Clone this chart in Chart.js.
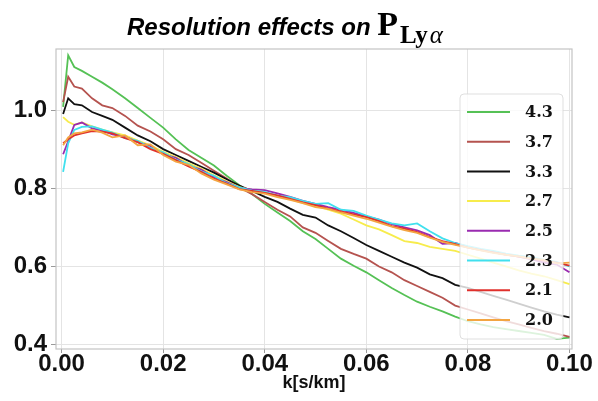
<!DOCTYPE html>
<html>
<head>
<meta charset="utf-8">
<script src="https://cdn.jsdelivr.net/npm/chart.js@4.4.1/dist/chart.umd.min.js"></script>
<style>
  html, body { margin: 0; padding: 0; background: #fff; }
  canvas { display: block; }
</style>
</head>
<body>
<canvas id="myChart" width="598" height="401"></canvas>
<script>
var kValues = [0.0003,0.0013,0.0025,0.004,0.006,0.008,0.010,0.0125,0.015,0.0175,0.02,0.0225,0.025,0.0275,0.03,0.0325,0.035,0.0375,0.04,0.0425,0.045,0.0475,0.05,0.0525,0.055,0.0575,0.06,0.0625,0.065,0.0675,0.07,0.0725,0.075,0.0775,0.08,0.0825,0.085,0.0875,0.09,0.0925,0.095,0.0975,0.1];

var labels = ["4.3","3.7","3.3","2.7","2.5","2.3","2.1","2.0"];
var colors = ["#55c155","#b5534f","#111111","#f7ec4c","#9a2bb0","#40e0ee","#e0302c","#f3a542"];

var z43 = [1.008,1.14,1.11,1.10,1.085,1.07,1.053,1.03,1.005,0.98,0.955,0.925,0.898,0.878,0.858,0.832,0.808,0.785,0.76,0.738,0.716,0.69,0.67,0.645,0.62,0.602,0.585,0.565,0.545,0.527,0.51,0.497,0.485,0.472,0.46,0.452,0.445,0.44,0.435,0.43,0.425,0.415,0.418];
var z37 = [1.02,1.085,1.06,1.055,1.03,1.012,1.005,0.985,0.96,0.945,0.925,0.90,0.885,0.865,0.845,0.825,0.802,0.785,0.765,0.745,0.728,0.70,0.686,0.665,0.645,0.632,0.62,0.60,0.585,0.565,0.55,0.535,0.52,0.50,0.49,0.48,0.47,0.46,0.452,0.443,0.435,0.428,0.42];
var z33 = [0.99,1.03,1.015,1.012,0.995,0.985,0.975,0.955,0.935,0.92,0.90,0.885,0.87,0.855,0.84,0.823,0.807,0.793,0.778,0.765,0.748,0.732,0.725,0.705,0.69,0.673,0.655,0.64,0.625,0.61,0.597,0.58,0.57,0.553,0.545,0.535,0.525,0.515,0.505,0.495,0.485,0.477,0.47];
var z27 = [0.982,0.97,0.962,0.968,0.958,0.95,0.943,0.935,0.922,0.91,0.893,0.88,0.864,0.85,0.833,0.818,0.803,0.795,0.788,0.78,0.772,0.762,0.755,0.745,0.735,0.72,0.705,0.695,0.68,0.665,0.66,0.65,0.645,0.64,0.63,0.62,0.61,0.60,0.59,0.582,0.575,0.565,0.555];
var z25 = [0.887,0.92,0.962,0.968,0.953,0.948,0.938,0.932,0.918,0.908,0.887,0.878,0.858,0.848,0.828,0.816,0.801,0.797,0.795,0.787,0.778,0.768,0.76,0.752,0.745,0.737,0.728,0.72,0.708,0.70,0.692,0.68,0.658,0.66,0.65,0.643,0.636,0.63,0.625,0.618,0.61,0.605,0.585];
var z23 = [0.842,0.915,0.949,0.957,0.958,0.95,0.942,0.928,0.921,0.903,0.892,0.873,0.862,0.843,0.832,0.813,0.802,0.794,0.791,0.781,0.777,0.768,0.76,0.762,0.745,0.742,0.73,0.72,0.71,0.705,0.71,0.69,0.672,0.66,0.652,0.645,0.64,0.633,0.628,0.624,0.617,0.612,0.60];
var z21 = [0.915,0.925,0.935,0.94,0.946,0.945,0.94,0.928,0.918,0.9,0.888,0.872,0.856,0.842,0.825,0.812,0.798,0.793,0.788,0.782,0.773,0.764,0.757,0.748,0.741,0.733,0.726,0.716,0.703,0.697,0.688,0.675,0.665,0.657,0.648,0.642,0.636,0.63,0.625,0.62,0.615,0.61,0.602];
var z20 = [0.91,0.93,0.94,0.943,0.95,0.942,0.93,0.935,0.91,0.912,0.885,0.868,0.86,0.838,0.822,0.81,0.797,0.79,0.786,0.777,0.77,0.762,0.752,0.747,0.738,0.73,0.722,0.712,0.702,0.693,0.686,0.674,0.663,0.655,0.648,0.641,0.635,0.63,0.626,0.62,0.617,0.608,0.61];

var xTicks = [0, 0.02, 0.04, 0.06, 0.08, 0.10];
var yTicks = [0.4, 0.6, 0.8, 1.0];

var series = [z43, z37, z33, z27, z25, z23, z21, z20];

var datasets = series.map(function(vals, i){
  return {
    label: labels[i],
    data: vals.map(function(v, j){ return {x: kValues[j], y: v}; }),
    borderColor: colors[i],
    backgroundColor: colors[i],
    borderWidth: 1.8,
    pointRadius: 0,
    tension: 0,
    fill: false,
    order: series.length - i   // later series sit on top, like matplotlib
  };
});

// frame round the plot
var frame = {
  id: 'frame',
  beforeDatasetsDraw: function(chart){
    var a = chart.chartArea, ctx = chart.ctx;
    ctx.save();
    ctx.strokeStyle = '#c4c4c4';
    ctx.lineWidth = 1.2;
    ctx.strokeRect(a.left, a.top, a.right - a.left, a.bottom - a.top);
    ctx.restore();
  }
};

// legend inside the axes, on top of the lines (semi transparent box)
var boxLegend = {
  id: 'boxLegend',
  afterDatasetsDraw: function(chart){
    var ctx = chart.ctx, a = chart.chartArea;
    var bx = a.right - 112, by = a.top + 45, bw = 103, bh = 245;
    ctx.save();
    ctx.beginPath();
    ctx.roundRect(bx, by, bw, bh, 4);
    ctx.fillStyle = 'rgba(255,255,255,0.8)';
    ctx.fill();
    ctx.strokeStyle = 'rgba(215,215,215,0.8)';
    ctx.lineWidth = 1;
    ctx.stroke();
    ctx.font = 'bold 16px "DejaVu Serif"';
    ctx.textBaseline = 'middle';
    ctx.textAlign = 'left';
    chart.data.datasets.forEach(function(ds, i){
      var y = by + 18 + i * 29.7;
      ctx.strokeStyle = ds.borderColor;
      ctx.lineWidth = 2;
      ctx.beginPath();
      ctx.moveTo(bx + 7, y);
      ctx.lineTo(bx + 50, y);
      ctx.stroke();
      ctx.fillStyle = '#111';
      ctx.fillText(ds.label, bx + 65, y + 1);
    });
    ctx.restore();
  }
};

// title: mixed fonts, so drawn by hand
var mixedTitle = {
  id: 'mixedTitle',
  afterDraw: function(chart){
    var ctx = chart.ctx;
    var parts = [
      {t: 'Resolution effects on ', f: 'italic bold 24px "Liberation Sans"', dy: 0, gap: 0},
      {t: 'P', f: 'bold 34px "Liberation Serif"', dy: 0, gap: 2},
      {t: 'Ly', f: 'bold 25px "Liberation Serif"', dy: 8, gap: 2},
      {t: '\u03b1', f: 'italic 25px "Liberation Serif"', dy: 8, gap: 0}
    ];
    ctx.save();
    var x = 127, base = 35;
    ctx.fillStyle = '#000';
    ctx.textBaseline = 'alphabetic';
    ctx.textAlign = 'left';
    parts.forEach(function(p){
      ctx.font = p.f;
      ctx.fillText(p.t, x, base + p.dy);
      x += ctx.measureText(p.t).width + p.gap;
    });
    ctx.restore();
  }
};

var ctx = document.getElementById('myChart').getContext('2d');
var chart = new Chart(ctx, {
  type: 'line',
  data: { datasets: datasets },
  options: {
    responsive: false,
    animation: false,
    devicePixelRatio: 1,
    layout: { padding: { top: 49, right: 26, left: 0, bottom: 0 } },
    plugins: {
      legend: { display: false },
      title: { display: false },
      tooltip: { enabled: false }
    },
    scales: {
      x: {
        type: 'linear',
        min: -0.0011,
        max: 0.1005,
        afterBuildTicks: function(scale){ scale.ticks = xTicks.map(function(v){ return {value: v}; }); },
        afterFit: function(scale){ scale.height = 52; },
        ticks: {
          autoSkip: false,
          maxRotation: 0,
          padding: -1,
          color: '#111',
          font: { family: '"Liberation Sans"', size: 24, weight: 'bold', lineHeight: 1 },
          callback: function(v){ return Number(v).toFixed(2); }
        },
        grid: { color: '#e4e4e4', tickColor: '#9a9a9a', tickLength: 4, lineWidth: 1 },
        border: { display: false },
        title: {
          display: true,
          text: 'k[s/km]',
          color: '#111',
          font: { family: '"Liberation Sans"', size: 18, weight: 'bold' },
          padding: { top: 0, bottom: 7 }
        }
      },
      y: {
        type: 'linear',
        min: 0.389,
        max: 1.156,
        afterBuildTicks: function(scale){ scale.ticks = yTicks.map(function(v){ return {value: v}; }); },
        afterFit: function(scale){ scale.width = 56; },
        ticks: {
          padding: 4,
          color: '#111',
          font: { family: '"Liberation Sans"', size: 24, weight: 'bold' },
          callback: function(v){ return Number(v).toFixed(1); }
        },
        grid: { color: '#e4e4e4', tickColor: '#9a9a9a', tickLength: 5, lineWidth: 1 },
        border: { display: false }
      }
    }
  },
  plugins: [frame, boxLegend, mixedTitle]
});
</script>
</body>
</html>
